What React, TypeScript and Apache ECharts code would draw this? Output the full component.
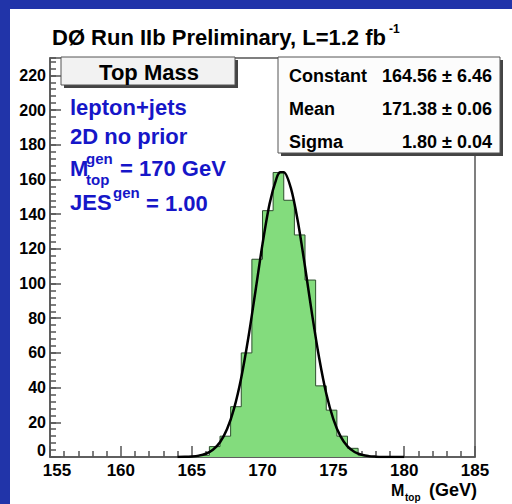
import React, { useEffect, useRef } from "react";
import * as echarts from "echarts";

// ---- data ----
const binLowEdges = [164.75, 165.5, 166.25, 167.0, 167.75, 168.5, 169.25, 170.0, 170.75, 171.5, 172.25, 173.0, 173.75, 174.5, 175.25, 176.0, 176.75, 177.5];
const binCounts = [0, 1, 6, 12, 29, 60, 114, 142, 164, 148, 128, 102, 41, 27, 12, 5, 1, 0];
const binWidth = 0.75;

const fitX = [164, 164.5, 165, 165.5, 166, 166.5, 167, 167.5, 168, 168.5, 169, 169.5, 170, 170.5, 171, 171.25, 171.5, 172, 172.5, 173, 173.5, 174, 174.5, 175, 175.5, 176, 176.5, 177, 177.5, 178, 178.5, 179, 180];
const fitY = [0.04, 0.11, 0.31, 0.79, 1.89, 4.17, 8.5, 16.1, 28.2, 45.7, 68.7, 95.4, 122.7, 146.0, 160.9, 164.1, 164.2, 155.1, 135.6, 109.8, 82.2, 57.1, 36.6, 21.8, 12.0, 6.1, 2.9, 1.3, 0.5, 0.2, 0.06, 0.02, 0];

const xMin = 155;
const xMax = 185;
const xInterval = 5;
const yMin = 0;
const yMax = 230;
const yInterval = 20;
const yMinorInterval = 4;

const titleText = "DØ Run IIb Preliminary, L=1.2 fb";
const titleSup = "-1";
const histTitle = "Top Mass";
const statLabels = ["Constant", "Mean", "Sigma"];
const statValues = ["164.56 ± 6.46", "171.38 ± 0.06", "1.80 ± 0.04"];

const FF = '"Liberation Sans", Arial, Helvetica, sans-serif';
const BLUE = "#1616c8";
const AX = "#555";

function txt(x: number, y: number, text: string, size: number, fill: string, align = "left", z = 120) {
  return {
    type: "text",
    x,
    y,
    z,
    silent: true,
    style: {
      text,
      fill,
      font: `bold ${size}px ${FF}`,
      align,
      textAlign: align,
      verticalAlign: "middle",
      textVerticalAlign: "middle",
    },
  };
}

export default function App() {
  const ref = useRef<HTMLDivElement>(null);

  useEffect(() => {
    document.body.style.margin = "0";
    const chart = echarts.init(ref.current!, null, { renderer: "svg" });

    const histData = binLowEdges.map((x, i) => [x, binCounts[i]]);
    histData.push([binLowEdges[binLowEdges.length - 1] + binWidth, 0]);
    const fitData = fitX.map((x, i) => [x, fitY[i]]);

    const labelBase = { color: "#000", fontWeight: "bold", fontFamily: FF };

    const option: any = {
      animation: false,
      backgroundColor: "#2134a9",
      grid: {
        left: 50,
        right: 37,
        top: 58,
        bottom: 47,
        show: true,
        borderColor: AX,
        borderWidth: 1.5,
        backgroundColor: "transparent",
        containLabel: false,
      },
      xAxis: {
        type: "value",
        min: xMin,
        max: xMax,
        interval: xInterval,
        axisLine: { show: true, lineStyle: { color: AX, width: 1.5 } },
        axisTick: { show: true, inside: true, length: 11, lineStyle: { color: AX, width: 1.5 } },
        minorTick: { show: true, splitNumber: 5, length: 6, lineStyle: { color: AX, width: 1.5 } },
        splitLine: { show: false },
        minorSplitLine: { show: false },
        axisLabel: {
          ...labelBase,
          fontSize: 17,
          margin: 5,
          formatter: (v: number) => (v === xMin ? `{first|${v}}` : `${v}`),
          rich: { first: { ...labelBase, fontSize: 17, padding: [0, 0, 0, 14] } },
        },
      },
      yAxis: [
        {
          type: "value",
          min: yMin,
          max: yMax,
          interval: yInterval,
          position: "left",
          axisLine: { show: true, lineStyle: { color: AX, width: 1.5 } },
          axisTick: { show: true, inside: true, length: 11, lineStyle: { color: AX, width: 1.5 } },
          splitLine: { show: false },
          axisLabel: {
            ...labelBase,
            fontSize: 16,
            margin: 4,
            showMaxLabel: false,
            formatter: (v: number) => (v === yMin ? `{low|${v}}` : `${v}`),
            rich: { low: { ...labelBase, fontSize: 16, padding: [0, 0, 14, 0] } },
          },
        },
        {
          type: "value",
          min: yMin,
          max: yMax,
          interval: yMinorInterval,
          position: "left",
          axisLine: { show: false },
          axisTick: { show: true, inside: true, length: 6, lineStyle: { color: AX, width: 1.5 } },
          splitLine: { show: false },
          axisLabel: { show: false },
        },
      ],
      series: [
        {
          type: "line",
          data: histData,
          step: "end",
          symbol: "none",
          yAxisIndex: 0,
          lineStyle: { color: "#2e4f2e", width: 1 },
          areaStyle: { color: "#83dc7d", opacity: 1 },
          z: 2,
        },
        {
          type: "line",
          data: fitData,
          smooth: 0.3,
          symbol: "none",
          yAxisIndex: 0,
          lineStyle: { color: "#000", width: 2.5 },
          z: 3,
        },
      ],
      graphic: {
        elements: [
          { type: "rect", z: -1, silent: true, shape: { x: 10, y: 9, width: 502, height: 495 }, style: { fill: "#fff" } },
          // title
          txt(52, 37, titleText, 22, "#000", "left"),
          txt(389, 29, titleSup, 12, "#000", "left"),
          // Top Mass box
          { type: "rect", z: 110, silent: true, shape: { x: 64, y: 60, width: 174, height: 28 }, style: { fill: "#444" } },
          { type: "rect", z: 111, silent: true, shape: { x: 61, y: 57, width: 174, height: 28 }, style: { fill: "#f2f2f2", stroke: "#555", lineWidth: 1 } },
          txt(149, 72, histTitle, 22, "#000", "center"),
          // stats box
          { type: "rect", z: 110, silent: true, shape: { x: 281, y: 60, width: 222, height: 96 }, style: { fill: "#444" } },
          { type: "rect", z: 111, silent: true, shape: { x: 278, y: 57, width: 222, height: 96 }, style: { fill: "#fcfcfc", stroke: "#555", lineWidth: 1 } },
          txt(289, 76, statLabels[0], 18, "#000", "left"),
          txt(289, 109, statLabels[1], 18, "#000", "left"),
          txt(289, 142, statLabels[2], 18, "#000", "left"),
          txt(492, 76, statValues[0], 18, "#000", "right"),
          txt(492, 109, statValues[1], 18, "#000", "right"),
          txt(492, 142, statValues[2], 18, "#000", "right"),
          // blue annotation
          txt(70, 107, "lepton+jets", 22, BLUE),
          txt(70, 136, "2D no prior", 22, BLUE),
          txt(70, 168, "M", 22, BLUE),
          txt(86, 158, "gen", 15, BLUE),
          txt(86, 179, "top", 15, BLUE),
          txt(120, 168, "= 170 GeV", 22, BLUE),
          txt(70, 202, "JES", 22, BLUE),
          txt(113, 192, "gen", 15, BLUE),
          txt(146, 203, "= 1.00", 22, BLUE),
          // x axis title
          txt(391, 490, "M", 16, "#000", "left"),
          txt(405, 497, "top", 10, "#000", "left"),
          txt(477, 490, "(GeV)", 18, "#000", "right"),
        ],
      },
    };

    chart.setOption(option);
    return () => chart.dispose();
  }, []);

  return <div ref={ref} style={{ width: 512, height: 504 }} />;
}
